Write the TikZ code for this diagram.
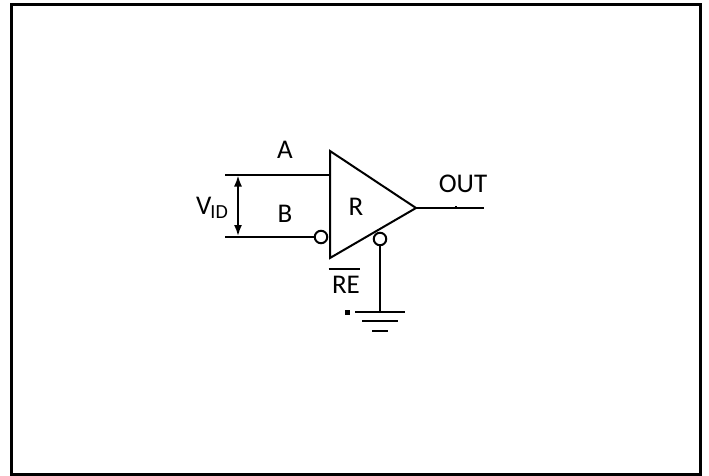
\documentclass[tikz,border=0pt]{standalone}
\usepackage{fontspec}
\setmainfont{Carlito}
\usetikzlibrary{arrows.meta}
\tikzset{wire/.style={line width=2pt, line cap=butt}}
\tikzset{bubble/.style={circle, draw, line width=2pt, fill=white, inner sep=0pt, minimum size=12.5pt}}
\tikzset{pinlabel/.style={inner sep=0pt, font=\fontsize{27}{29}\selectfont}}
\begin{document}
\begin{tikzpicture}[x=1pt, y=-1pt]
  \useasboundingbox (0,0) rectangle (709,476);
  % frame
  \draw [line width=3pt] (11.5,4.5) rectangle (700.5,474.5);
  % receiver
  \coordinate (top) at (330,151);
  \coordinate (low) at (330,258);
  \coordinate (tip) at (416,208);
  \draw [wire, line join=miter] (top) -- (tip) -- (low) -- cycle;
  \node [bubble] (invB) at (321,237) {};
  \node [bubble] (invRE) at (380,239) {};
  \node [pinlabel] (labR) at (356,207) {R};
  % inputs
  \coordinate (inA) at (225,174.5);
  \coordinate (inB) at (225,237);
  \coordinate (endA) at (330,174.5);
  \coordinate (vidA) at (238,175.5);
  \coordinate (vidB) at (238,236);
  \draw [wire] (inA) -- (endA);
  \draw [wire] (inB) -- (invB);
  \draw [line width=1.8pt, {Latex[length=11pt,width=8pt]}-{Latex[length=11pt,width=8pt]}] (vidA) -- (vidB);
  \node [pinlabel] (labA) at (285,149.5) {A};
  \node [pinlabel] (labB) at (285,214) {B};
  \node [pinlabel] (labVID) at (212,208) {V\kern-1pt\raisebox{-4pt}{\fontsize{20}{21}\selectfont ID}};
  % output
  \coordinate (out) at (484,208);
  \draw [wire] (tip) -- (out);
  \node [pinlabel] (labOUT) at (463,184) {OUT};
  \fill (454.5,205.5) rectangle (456.5,207);
  % enable and ground
  \coordinate (gnd) at (380,311.5);
  \coordinate (gndL) at (355,311.5);
  \coordinate (gndR) at (405,311.5);
  \draw [wire] (invRE) -- (gnd);
  \draw [wire] (gndL) -- (gndR);
  \draw [wire] (362,321) -- (398,321);
  \draw [wire] (372,331) -- (388,331);
  \fill (344.5,309.5) rectangle (349.5,314.5);
  \node [pinlabel] (labRE) at (346,285) {RE};
  \draw [wire] (328.5,268.5) -- (359.5,268.5);
\end{tikzpicture}
\end{document}
